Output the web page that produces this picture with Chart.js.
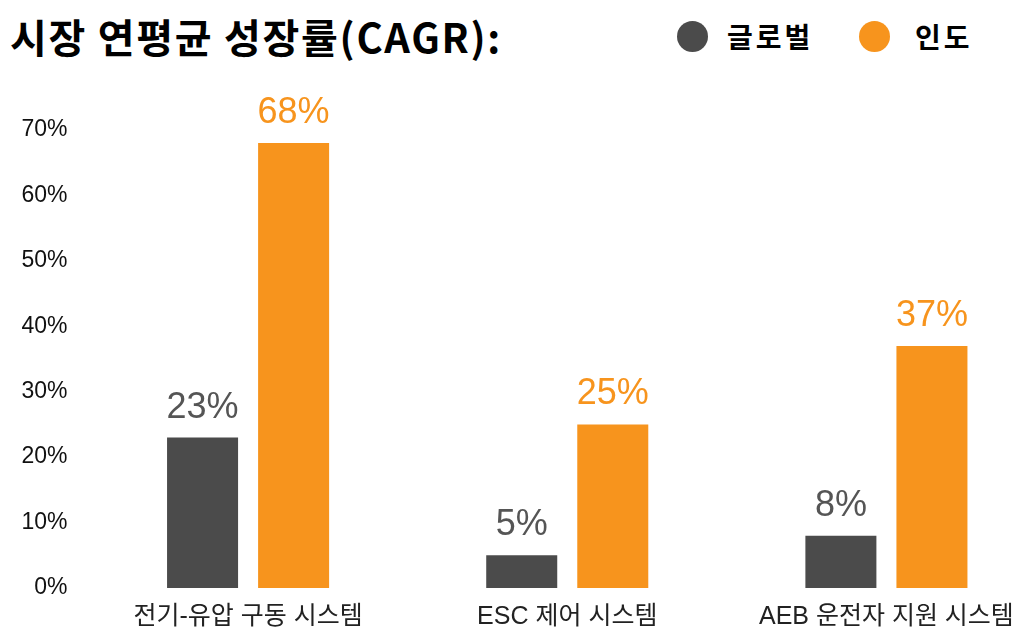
<!DOCTYPE html>
<html>
<head>
<meta charset="utf-8">
<script src="https://cdn.jsdelivr.net/npm/chart.js@4"></script>
<style>
  body { margin: 0; background: #fff; overflow: hidden; width: 1018px; height: 640px; position: relative; }
  #title { position: absolute; left: 10px; top: 14px; font: bold 40px/44px 'Noto Sans CJK KR', sans-serif; letter-spacing: 1.7px; color: #000; white-space: nowrap; }
  .dot { position: absolute; top: 21px; width: 31px; height: 31px; border-radius: 50%; }
  .txt { position: absolute; top: 16px; line-height: 40px; font: bold 28px/40px 'Noto Sans CJK KR', sans-serif; letter-spacing: 3px; color: #000; white-space: nowrap; }
  #wrap { position: absolute; left: 0; top: 0; width: 1046px; height: 640px; }
</style>
</head>
<body>
<div id="title">시장 연평균 성장률(CAGR):</div>
<div id="legend"></div>
<div id="wrap"><canvas id="chart"></canvas></div>
<script>
const categories = ['전기-유압 구동 시스템', 'ESC 제어 시스템', 'AEB 운전자 지원 시스템'];
const seriesNames = ['글로벌', '인도'];
const globalValues = [23, 5, 8];
const indiaValues = [68, 25, 37];
const seriesColors = ['#4b4b4b', '#f7941d'];
const yTicks = [0, 10, 20, 30, 40, 50, 60, 70];

// legend (HTML, built from the series names/colours)
const dotX = [677, 859];
const textX = [727, 915];
const legendBox = document.getElementById('legend');
seriesNames.forEach((name, i) => {
  const dot = document.createElement('div');
  dot.className = 'dot';
  dot.style.left = dotX[i] + 'px';
  dot.style.background = seriesColors[i];
  const t = document.createElement('div');
  t.className = 'txt';
  t.style.left = textX[i] + 'px';
  t.textContent = name;
  legendBox.appendChild(dot);
  legendBox.appendChild(t);
});

// value labels above each bar
const valueLabels = {
  id: 'valueLabels',
  afterDatasetsDraw(chart) {
    const ctx = chart.ctx;
    ctx.save();
    ctx.font = "36px 'Liberation Sans', Arial, sans-serif";
    ctx.textAlign = 'center';
    ctx.textBaseline = 'alphabetic';
    chart.data.datasets.forEach((ds, di) => {
      ctx.fillStyle = di === 0 ? '#555555' : seriesColors[1];
      chart.getDatasetMeta(di).data.forEach((bar, i) => {
        ctx.fillText(ds.data[i] + '%', bar.x, bar.y - 20);
      });
    });
    ctx.restore();
  }
};

Chart.defaults.font.family = "'Liberation Sans', Arial, 'Noto Sans CJK KR', sans-serif";

new Chart(document.getElementById('chart'), {
  type: 'bar',
  data: {
    labels: categories,
    datasets: [
      { label: seriesNames[0], data: globalValues, backgroundColor: seriesColors[0] },
      { label: seriesNames[1], data: indiaValues, backgroundColor: seriesColors[1] }
    ]
  },
  options: {
    responsive: true,
    maintainAspectRatio: false,
    animation: false,
    categoryPercentage: 0.5705,
    barPercentage: 0.78,
    layout: { padding: { top: 130, left: 0, right: 0, bottom: 0 } },
    plugins: {
      legend: { display: false },
      tooltip: { enabled: false }
    },
    scales: {
      x: {
        grid: { display: false },
        border: { display: false },
        ticks: { color: '#222', font: { size: 25 }, padding: 6, maxRotation: 0, autoSkip: false },
        afterFit: s => { s.height = 52; }
      },
      y: {
        min: 0,
        max: 70,
        grid: { display: false },
        border: { display: false },
        afterBuildTicks: s => { s.ticks = yTicks.map(v => ({ value: v })); },
        ticks: { color: '#111', font: { size: 23 }, padding: 13, callback: v => v + '%' },
        afterFit: s => { s.width = 88.5; }
      }
    }
  },
  plugins: [valueLabels]
});
</script>
</body>
</html>
